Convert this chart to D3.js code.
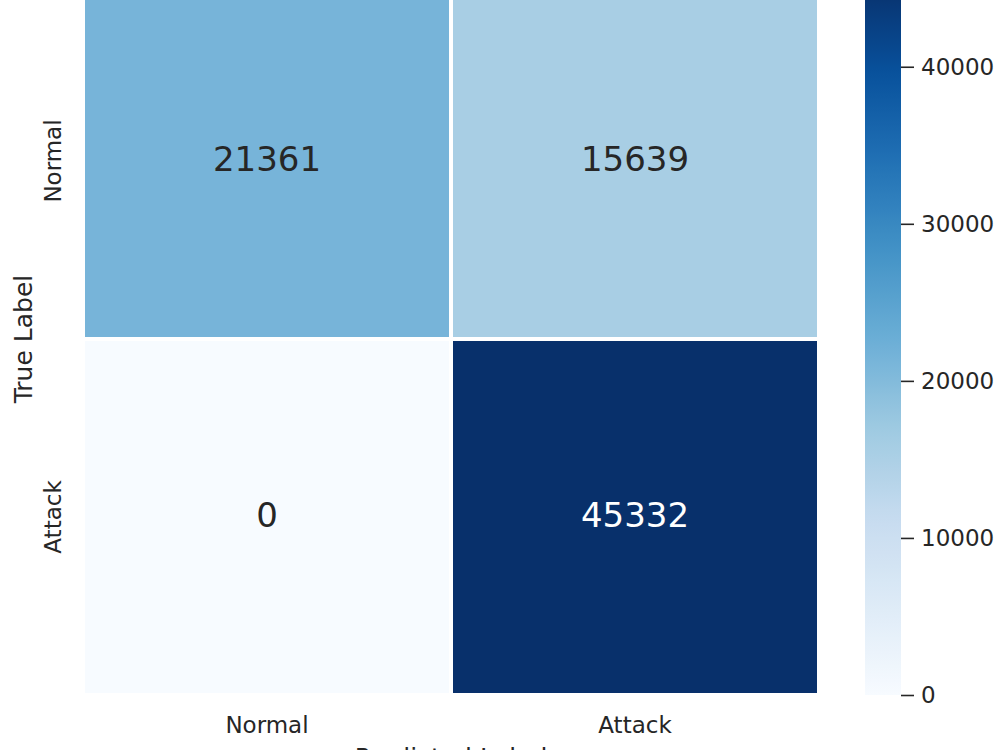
<!DOCTYPE html>
<html>
<head>
<meta charset="utf-8">
<script src="https://cdn.jsdelivr.net/npm/d3@7"></script>
<style>
  html, body { margin: 0; padding: 0; background: #ffffff; }
  svg { display: block; }
  text { font-family: "DejaVu Sans", sans-serif; fill: #262626; }
</style>
</head>
<body>
<svg id="chart" width="1000" height="750"></svg>
<script>
// ---- data ----
const predictedLabels = ["Normal", "Attack"];
const trueLabels = ["Normal", "Attack"];
const rowNormal = [21361, 15639];
const rowAttack = [0, 45332];
const colorbarTicks = [0, 10000, 20000, 30000, 40000];
const xAxisTitle = "Predicted Label";
const yAxisTitle = "True Label";

const matrix = [rowNormal, rowAttack];
const allVals = matrix.flat();
const vmin = d3.min(allVals), vmax = d3.max(allVals);

// matplotlib "Blues" colormap (linear segmented)
const bluesStops = ["#f7fbff","#deebf7","#c6dbef","#9ecae1","#6baed6","#4292c6","#2171b5","#08519c","#08306b"];
const cmap = d3.scaleLinear()
  .domain(bluesStops.map((_, i) => i / (bluesStops.length - 1)))
  .range(bluesStops)
  .interpolate(d3.interpolateRgb)
  .clamp(true);
const norm = d3.scaleLinear().domain([vmin, vmax]).range([0, 1]);
const color = v => cmap(norm(v));

const svg = d3.select("#chart");

// layout
const hm = { left: 83, right: 819, top: -17, bottom: 695 };
const cb = { left: 865, right: 901, top: -17, bottom: 695 };

const x = d3.scaleBand().domain(predictedLabels).range([hm.left, hm.right]);
const y = d3.scaleBand().domain(trueLabels).range([hm.top, hm.bottom]);

// cells
const cells = [];
trueLabels.forEach((t, i) => predictedLabels.forEach((p, j) => cells.push({ t, p, v: matrix[i][j] })));

svg.append("g").selectAll("rect").data(cells).join("rect")
  .attr("x", d => x(d.p))
  .attr("y", d => y(d.t))
  .attr("width", x.bandwidth())
  .attr("height", y.bandwidth())
  .attr("fill", d => color(d.v))
  .attr("stroke", "#ffffff")
  .attr("stroke-width", 4);

function luminance(c) {
  const rgb = d3.rgb(c);
  const f = u => { u /= 255; return u <= 0.03928 ? u / 12.92 : Math.pow((u + 0.055) / 1.055, 2.4); };
  return 0.2126 * f(rgb.r) + 0.7152 * f(rgb.g) + 0.0722 * f(rgb.b);
}

svg.append("g").selectAll("text").data(cells).join("text")
  .attr("x", d => x(d.p) + x.bandwidth() / 2)
  .attr("y", d => y(d.t) + y.bandwidth() / 2 + 9.5)
  .attr("text-anchor", "middle")
  .style("font-size", "34px")
  .style("fill", d => luminance(color(d.v)) > 0.408 ? "#262626" : "#ffffff")
  .text(d => d.v);

// x tick labels
svg.append("g").selectAll("text").data(predictedLabels).join("text")
  .attr("x", d => x(d) + x.bandwidth() / 2)
  .attr("y", 733)
  .attr("text-anchor", "middle")
  .style("font-size", "23px")
  .text(d => d);

// y tick labels (rotated)
svg.append("g").selectAll("text").data(trueLabels).join("text")
  .attr("transform", d => `translate(61,${y(d) + y.bandwidth() / 2}) rotate(-90)`)
  .attr("text-anchor", "middle")
  .style("font-size", "23px")
  .text(d => d);

// axis titles
svg.append("text")
  .attr("x", (hm.left + hm.right) / 2)
  .attr("y", 766)
  .attr("text-anchor", "middle")
  .style("font-size", "25px")
  .text(xAxisTitle);

svg.append("text")
  .attr("transform", `translate(32,${(hm.top + hm.bottom) / 2}) rotate(-90)`)
  .attr("text-anchor", "middle")
  .style("font-size", "25px")
  .text(yAxisTitle);

// colorbar
const defs = svg.append("defs");
const grad = defs.append("linearGradient")
  .attr("id", "cbgrad").attr("x1", 0).attr("y1", 1).attr("x2", 0).attr("y2", 0);
d3.range(0, 1.0001, 0.02).forEach(t => {
  grad.append("stop").attr("offset", t).attr("stop-color", cmap(t));
});
svg.append("rect")
  .attr("x", cb.left).attr("y", cb.top)
  .attr("width", cb.right - cb.left).attr("height", cb.bottom - cb.top)
  .attr("fill", "url(#cbgrad)");

const cy = d3.scaleLinear().domain([vmin, vmax]).range([cb.bottom, cb.top]);
const cbAxis = d3.axisRight(cy).tickValues(colorbarTicks).tickSize(13).tickPadding(7).tickFormat(d3.format("d"));
const gAxis = svg.append("g").attr("transform", `translate(${cb.right},0)`).call(cbAxis);
gAxis.select(".domain").remove();
gAxis.selectAll(".tick line").attr("stroke", "#262626").attr("stroke-width", 1.6);
gAxis.selectAll(".tick text")
  .style("font-size", "23px")
  .style("font-family", "'DejaVu Sans', sans-serif")
  .attr("fill", "#262626");
</script>
</body>
</html>
